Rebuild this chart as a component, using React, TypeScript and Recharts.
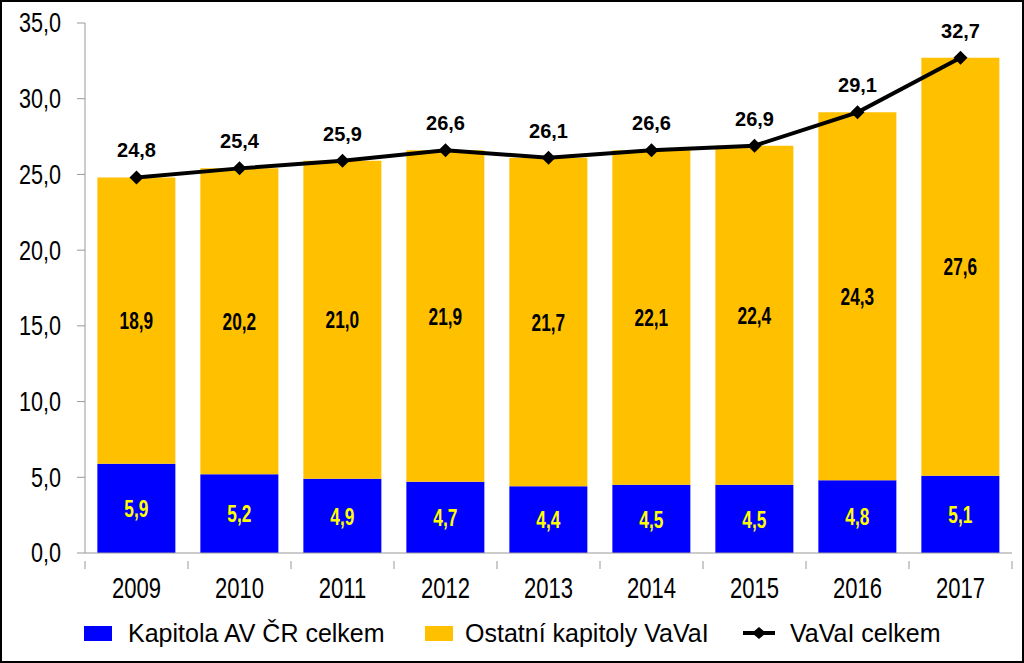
import React from "react";
import { ComposedChart, Bar, Line, XAxis, YAxis, Legend, LabelList } from "recharts";

const years = ["2009", "2010", "2011", "2012", "2013", "2014", "2015", "2016", "2017"];
const kapitolaAV = [5.9, 5.2, 4.9, 4.7, 4.4, 4.5, 4.5, 4.8, 5.1];
const ostatni = [18.9, 20.2, 21.0, 21.9, 21.7, 22.1, 22.4, 24.3, 27.6];
const celkem = [24.8, 25.4, 25.9, 26.6, 26.1, 26.6, 26.9, 29.1, 32.7];
const yTicks = [0, 5, 10, 15, 20, 25, 30, 35];

const data = years.map((y, i) => ({
    year: y,
    av: kapitolaAV[i],
    other: ostatni[i],
    total: celkem[i],
}));

const FONT = "'Liberation Sans', Arial, sans-serif";
const BLUE = "#0000FF";
const GOLD = "#FFC000";
const comma = (v: any) => Number(v).toFixed(1).replace(".", ",");

const CHART_W = 1020;
const CHART_H = 659;
const Y_W = 83;
const RIGHT = 10;
const BAND = (CHART_W - Y_W - RIGHT) / years.length;

// narrow-looking text, squeezed horizontally
function NarrowText({ x, y, anchor, size, bold, fill, scale, children }: any) {
    return (
        <text
            transform={`translate(${x},${y}) scale(${scale},1)`}
            textAnchor={anchor}
            dominantBaseline="central"
            fontSize={size}
            fontWeight={bold ? "bold" : "normal"}
            fontFamily={FONT}
            fill={fill}
        >
            {children}
        </text>
    );
}

function XTick(props: any) {
    const { x, y, payload, index } = props;
    const last = index === years.length - 1;
    return (
        <g>
            <line x1={x - BAND / 2} x2={x - BAND / 2} y1={y} y2={y + 8} stroke="#999" />
            {last && <line x1={x + BAND / 2} x2={x + BAND / 2} y1={y} y2={y + 8} stroke="#999" />}
            <NarrowText x={x} y={y + 27} anchor="middle" size={29} fill="#000" scale={0.76}>
                {payload.value}
            </NarrowText>
        </g>
    );
}

function YTick(props: any) {
    const { x, y, payload } = props;
    return (
        <NarrowText x={x - 14} y={y} anchor="end" size={27} fill="#000" scale={0.8}>
            {comma(payload.value)}
        </NarrowText>
    );
}

function segLabel(color: string) {
    return (props: any) => {
        const { x, y, width, height, value } = props;
        return (
            <NarrowText x={x + width / 2} y={y + height / 2} anchor="middle" size={24} bold fill={color} scale={0.72}>
                {comma(value)}
            </NarrowText>
        );
    };
}

function Diamond(props: any) {
    const { cx, cy } = props;
    if (cx == null || cy == null) return null;
    const r = 7;
    return <polygon points={`${cx},${cy - r} ${cx + r},${cy} ${cx},${cy + r} ${cx - r},${cy}`} fill="#000" />;
}

function LegendBox() {
    const y = 30;
    return (
        <svg width={CHART_W} height={58} style={{ display: "block" }}>
            <rect x={82} y={y - 7} width={28} height={15} fill={BLUE} />
            <text x={126} y={y} dominantBaseline="central" fontSize={25} fontFamily={FONT} fill="#000">
                Kapitola AV ČR celkem
            </text>
            <rect x={423} y={y - 7} width={28} height={15} fill={GOLD} />
            <text x={463} y={y} dominantBaseline="central" fontSize={25} fontFamily={FONT} fill="#000">
                Ostatní kapitoly VaVaI
            </text>
            <line x1={741} x2={773} y1={y} y2={y} stroke="#000" strokeWidth={4} />
            <polygon points={`757,${y - 6} 764,${y} 757,${y + 6} 750,${y}`} fill="#000" />
            <text x={788} y={y} dominantBaseline="central" fontSize={25} fontFamily={FONT} fill="#000">
                VaVaI celkem
            </text>
        </svg>
    );
}

export default function App() {
    return (
        <div
            style={{
                position: "absolute",
                left: 0,
                top: 0,
                width: 1024,
                height: 663,
                boxSizing: "border-box",
                border: "2px solid #000",
                background: "#fff",
            }}
        >
            <ComposedChart
                width={CHART_W}
                height={CHART_H}
                data={data}
                margin={{ top: 21, right: RIGHT, bottom: 0, left: 0 }}
                barCategoryGap="12%"
            >
                <XAxis
                    dataKey="year"
                    height={50}
                    tickLine={false}
                    axisLine={{ stroke: "#999" }}
                    tick={<XTick />}
                    interval={0}
                />
                <YAxis
                    width={Y_W}
                    domain={[0, 35]}
                    ticks={yTicks}
                    axisLine={{ stroke: "#999" }}
                    tickLine={{ stroke: "#999" }}
                    tickSize={8}
                    tick={<YTick />}
                />
                <Legend verticalAlign="bottom" height={58} content={() => <LegendBox />} />
                <Bar dataKey="av" stackId="a" fill={BLUE} isAnimationActive={false}>
                    <LabelList dataKey="av" content={segLabel("#FFFF00")} />
                </Bar>
                <Bar dataKey="other" stackId="a" fill={GOLD} isAnimationActive={false}>
                    <LabelList dataKey="other" content={segLabel("#000")} />
                </Bar>
                <Line
                    dataKey="total"
                    stroke="#000"
                    strokeWidth={4}
                    dot={<Diamond />}
                    activeDot={false}
                    isAnimationActive={false}
                >
                    <LabelList
                        dataKey="total"
                        position="top"
                        offset={20}
                        formatter={comma}
                        style={{ fontSize: 20, fontWeight: "bold", fontFamily: FONT, fill: "#000" }}
                    />
                </Line>
            </ComposedChart>
        </div>
    );
}
